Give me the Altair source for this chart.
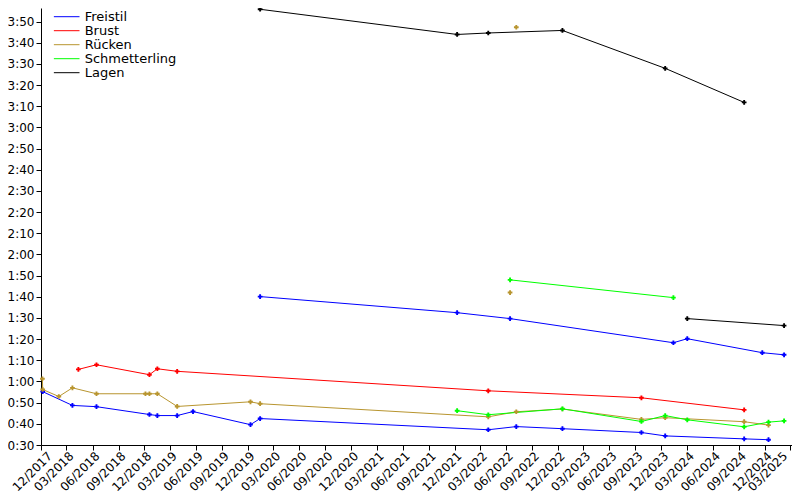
import altair as alt
import pandas as pd

# ---- data (times in seconds) ----
fr50_dates = ["2017-12-07", "2018-03-22", "2018-06-15", "2018-12-19", "2019-01-16", "2019-03-27",
              "2019-05-22", "2019-12-11", "2020-01-14", "2022-03-30", "2022-07-07", "2022-12-17",
              "2023-09-22", "2023-12-15", "2024-09-19", "2024-12-14"]
fr50_times = [55.2, 48.7, 48.1, 44.4, 43.9, 43.9, 45.8, 39.6, 42.5, 37.2, 38.7, 37.7, 35.9, 34.3, 32.9, 32.5]

fr100_dates = ["2020-01-14", "2021-12-10", "2022-06-15", "2024-01-13", "2024-03-02", "2024-11-22", "2025-02-07"]
fr100_times = [100.1, 92.5, 89.7, 78.3, 80.2, 73.6, 72.6]

br50_dates = ["2018-04-12", "2018-06-15", "2018-12-19", "2019-01-16", "2019-03-27", "2022-03-30",
              "2023-09-22", "2024-09-19"]
br50_times = [65.7, 67.9, 63.2, 66.0, 64.8, 55.6, 52.3, 46.6]

ru50_dates = ["2017-12-06", "2017-12-07", "2018-02-02", "2018-03-22", "2018-06-15", "2018-12-05",
              "2018-12-19", "2019-01-16", "2019-03-27", "2019-12-11", "2020-01-14", "2022-03-30",
              "2022-07-07", "2022-12-17", "2023-09-22", "2023-12-15", "2024-09-19", "2024-12-14"]
ru50_times = [61.3, 56.2, 52.9, 57.0, 54.2, 54.2, 54.2, 54.2, 48.2, 50.4, 49.5, 43.3, 45.7, 47.0,
              42.1, 42.9, 41.0, 39.4]

ru100_dates = ["2022-06-15"]
ru100_times = [102.0]

ru200_dates = ["2022-07-07"]
ru200_times = [227.3]

sm50_dates = ["2021-12-10", "2022-03-30", "2022-12-17", "2023-09-22", "2023-12-15", "2024-03-02",
              "2024-09-19", "2024-12-14", "2025-02-07"]
sm50_times = [46.2, 44.3, 47.1, 41.1, 43.9, 41.9, 38.6, 40.8, 41.4]

sm100_dates = ["2022-06-15", "2024-01-13"]
sm100_times = [108.0, 99.6]

la200_dates = ["2020-01-14", "2021-12-10", "2022-03-30", "2022-12-17", "2023-12-15", "2024-09-19"]
la200_times = [235.8, 223.9, 224.6, 225.8, 207.9, 191.8]

la100_dates = ["2024-03-02", "2025-02-07"]
la100_times = [89.7, 86.4]

styles = ["Freistil", "Brust", "Rücken", "Schmetterling", "Lagen"]
colors = ["#0000ff", "#ff0000", "#b8952f", "#00ff00", "#000000"]

x_ticks = ["2017-12-01", "2018-03-01", "2018-06-01", "2018-09-01", "2018-12-01", "2019-03-01",
           "2019-06-01", "2019-09-01", "2019-12-01", "2020-03-01", "2020-06-01", "2020-09-01",
           "2020-12-01", "2021-03-01", "2021-06-01", "2021-09-01", "2021-12-01", "2022-03-01",
           "2022-06-01", "2022-09-01", "2022-12-01", "2023-03-01", "2023-06-01", "2023-09-01",
           "2023-12-01", "2024-03-01", "2024-06-01", "2024-09-01", "2024-12-01", "2025-03-01"]
y_ticks = [30, 40, 50, 60, 70, 80, 90, 100, 110, 120, 130, 140, 150, 160, 170, 180, 190, 200,
           210, 220, 230]

series = [
    ("Freistil", "Freistil 50", fr50_dates, fr50_times),
    ("Freistil", "Freistil 100", fr100_dates, fr100_times),
    ("Brust", "Brust 50", br50_dates, br50_times),
    ("Rücken", "Rücken 50", ru50_dates, ru50_times),
    ("Rücken", "Rücken 100", ru100_dates, ru100_times),
    ("Rücken", "Rücken 200", ru200_dates, ru200_times),
    ("Schmetterling", "Schmetterling 50", sm50_dates, sm50_times),
    ("Schmetterling", "Schmetterling 100", sm100_dates, sm100_times),
    ("Lagen", "Lagen 200", la200_dates, la200_times),
    ("Lagen", "Lagen 100", la100_dates, la100_times),
]

rows = []
for stil, serie, ds, ts in series:
    for d, t in zip(ds, ts):
        rows.append({"stil": stil, "serie": serie, "datum": d, "zeit": t})
df = pd.DataFrame(rows)


def dt(s):
    y, m, d = s.split("-")
    return alt.DateTime(year=int(y), month=int(m), date=int(d), utc=True)


font = "DejaVu Sans"

x_enc = alt.X(
    "datum:T",
    scale=alt.Scale(type="utc", domain=[dt("2017-12-01"), dt("2025-03-07")]),
    axis=alt.Axis(values=[dt(s) for s in x_ticks], format="%m/%Y", labelAngle=315,
                  labelAlign="right", labelBaseline="top", labelPadding=0,
                  labelOffset={"condition": [
                      {"test": "datum.value < utc(2018, 0, 1)", "value": 5},
                      {"test": "datum.value > utc(2025, 0, 1)", "value": -9}],
                      "value": 1},
                  labelOverlap=False, title=None, grid=False, tickSize=5),
)
y_enc = alt.Y(
    "zeit:Q",
    scale=alt.Scale(domain=[30, 236.4], nice=False, zero=False),
    axis=alt.Axis(values=y_ticks, title=None, grid=False, tickSize=5, labelPadding=2,
                  labelOverlap=False,
                  labelExpr="floor(datum.value/60) + ':' + (datum.value % 60 < 10 ? '0' : '') + (datum.value % 60)"),
)
color_enc = alt.Color(
    "stil:N",
    scale=alt.Scale(domain=styles, range=colors),
    legend=alt.Legend(title=None, orient="none", legendX=19.2, legendY=2.2,
                      symbolType="M-2.85,0H2.85", symbolSize=81, symbolStrokeWidth=1,
                      labelOffset=11.5, labelFontSize=13, labelFont=font, labelColor="#000000",
                      rowPadding=-1, padding=0),
)

base = alt.Chart(df).encode(x=x_enc, y=y_enc, color=color_enc, detail="serie:N")
lines = base.mark_line(strokeWidth=1)
points = base.mark_point(shape="cross", filled=True, size=22, opacity=1)

chart = (
    alt.layer(lines, points)
    .properties(width=751, height=437, autosize="none",
                padding={"left": 33, "top": 0, "right": 0, "bottom": 55})
    .configure_view(strokeWidth=0)
    .configure_axis(domainColor="#000000", tickColor="#000000", labelColor="#000000",
                    labelFont=font, labelFontSize=12, domainWidth=1, tickWidth=1)
)

chart.save("out.html", embed_options={"renderer": "svg", "actions": False})
